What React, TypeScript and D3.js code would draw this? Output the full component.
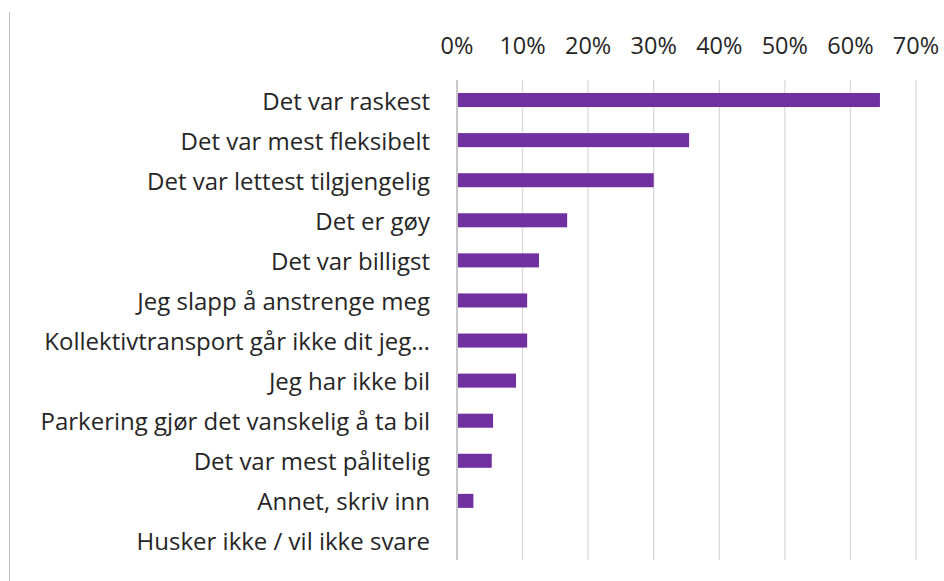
import React from "react";
import * as d3 from "d3";

const categories = [
  "Det var raskest",
  "Det var mest fleksibelt",
  "Det var lettest tilgjengelig",
  "Det er gøy",
  "Det var billigst",
  "Jeg slapp å anstrenge meg",
  "Kollektivtransport går ikke dit jeg…",
  "Jeg har ikke bil",
  "Parkering gjør det vanskelig å ta bil",
  "Det var mest pålitelig",
  "Annet, skriv inn",
  "Husker ikke / vil ikke svare",
];
const shares = [0.645, 0.354, 0.3, 0.168, 0.125, 0.107, 0.107, 0.09, 0.055, 0.053, 0.025, 0];
const ticks = [0, 0.1, 0.2, 0.3, 0.4, 0.5, 0.6, 0.7];

const W = 944;
const H = 581;
const FONT = "'Open Sans', sans-serif";

export default function App() {
  const x = d3.scaleLinear().domain([0, 0.7]).range([457, 916]);
  const y = d3.scaleBand<string>().domain(categories).range([80, 561]).paddingInner(0.65).paddingOuter(0.325);
  const fmt = d3.format(".0%");

  return (
    <div style={{ position: "fixed", top: 0, left: 0, background: "#fff" }}>
      <svg width={W} height={H} style={{ display: "block" }}>
        <rect width={W} height={H} fill="#fff" />
        <line x1={9.5} x2={9.5} y1={12} y2={H} stroke="#bfbfbf" strokeWidth={1} />
        {ticks.map((t) => (
          <g key={t}>
            <line
              x1={x(t)}
              x2={x(t)}
              y1={80}
              y2={560}
              stroke={t === 0 ? "#c8c8c8" : "#d9d9d9"}
              strokeWidth={t === 0 ? 2 : 1.3}
            />
            <text
              x={x(t)}
              y={45}
              textAnchor="middle"
              dominantBaseline="central"
              fontFamily={FONT}
              fontSize={23.5}
              fill="#262626"
            >
              {fmt(t)}
            </text>
          </g>
        ))}
        {categories.map((c, i) => (
          <g key={c}>
            <text
              x={430}
              y={(y(c) ?? 0) + y.bandwidth() / 2}
              textAnchor="end"
              dominantBaseline="central"
              fontFamily={FONT}
              fontSize={24}
              fill="#262626"
            >
              {c}
            </text>
            {shares[i] > 0 && (
              <rect
                x={x(0) + 1}
                y={y(c)}
                width={x(shares[i]) - x(0) - 1}
                height={y.bandwidth()}
                fill="#7030a0"
              />
            )}
          </g>
        ))}
      </svg>
    </div>
  );
}
